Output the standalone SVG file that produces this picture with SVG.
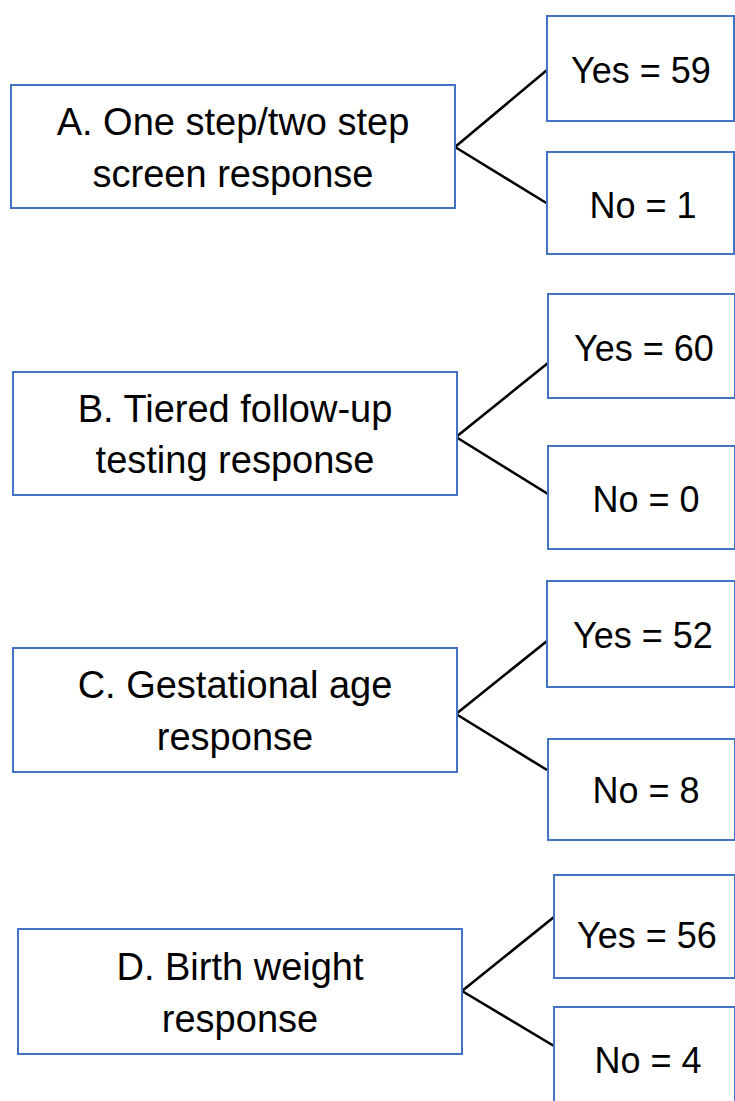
<svg xmlns="http://www.w3.org/2000/svg" width="735" height="1101" viewBox="0 0 735 1101">
<style>
.box{fill:#fff;stroke:#4472C4;stroke-width:2}
.con{stroke:#000;stroke-width:2.6;fill:none}
text{font-family:"Liberation Sans",Arial,sans-serif;font-size:38px;fill:#000;text-anchor:middle}
text.v{font-size:36px}
</style>
<rect width="735" height="1101" fill="#fff"/>
<g id="connectors">
<path class="con" d="M455,147 L547,70 M455,147 L548,204"/>
<path class="con" d="M456,437 L548,363 M456,437 L548,494"/>
<path class="con" d="M456,714 L547,641 M456,714 L547,770"/>
<path class="con" d="M462,991 L554,917 M462,991 L554,1046"/>
</g>
<g id="nodeA">
<rect class="box" x="11" y="85" width="444" height="123"/>
<text x="233" y="135">A. One step/two step</text>
<text x="233" y="187">screen response</text>
</g>
<g id="nodeAyes">
<rect class="box" x="547" y="16" width="187" height="105"/>
<text class="v" x="641" y="83">Yes = 59</text>
</g>
<g id="nodeAno">
<rect class="box" x="547" y="152" width="187" height="102"/>
<text class="v" x="643" y="218">No = 1</text>
</g>
<g id="nodeB">
<rect class="box" x="13" y="372" width="444" height="123"/>
<text x="235" y="422">B. Tiered follow-up</text>
<text x="235" y="473">testing response</text>
</g>
<g id="nodeByes">
<rect class="box" x="548" y="294" width="187" height="104"/>
<text class="v" x="644" y="361">Yes = 60</text>
</g>
<g id="nodeBno">
<rect class="box" x="548" y="446" width="187" height="103"/>
<text class="v" x="646" y="512">No = 0</text>
</g>
<g id="nodeC">
<rect class="box" x="13" y="648" width="444" height="124"/>
<text x="235" y="698">C. Gestational age</text>
<text x="235" y="750">response</text>
</g>
<g id="nodeCyes">
<rect class="box" x="547" y="581" width="188" height="106"/>
<text class="v" x="643" y="648">Yes = 52</text>
</g>
<g id="nodeCno">
<rect class="box" x="548" y="739" width="187" height="101"/>
<text class="v" x="646" y="803">No = 8</text>
</g>
<g id="nodeD">
<rect class="box" x="18" y="929" width="444" height="125"/>
<text x="240" y="980">D. Birth weight</text>
<text x="240" y="1032">response</text>
</g>
<g id="nodeDyes">
<rect class="box" x="554" y="875" width="181" height="103"/>
<text class="v" x="647" y="948">Yes = 56</text>
</g>
<g id="nodeDno">
<rect class="box" x="554" y="1007" width="181" height="110"/>
<text class="v" x="648" y="1073">No = 4</text>
</g>
</svg>
